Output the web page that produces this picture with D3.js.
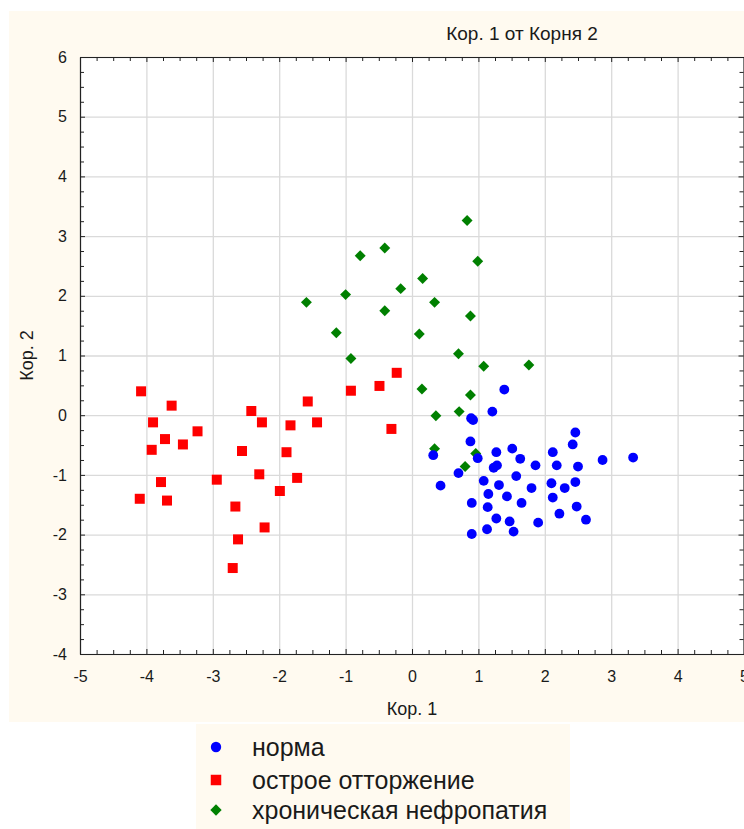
<!DOCTYPE html>
<html>
<head>
<meta charset="utf-8">
<script src="https://cdn.jsdelivr.net/npm/d3@7"></script>
<style>
  html, body { margin: 0; padding: 0; background: #ffffff; }
  svg { display: block; }
  text { font-family: "Liberation Sans", Arial, sans-serif; fill: #1a1a1a; }
</style>
</head>
<body>
<svg id="chart" width="744" height="829"></svg>
<script>
// ---- Data ----
const title = "Кор. 1 от Корня 2";
const xLabel = "Кор. 1";
const yLabel = "Кор. 2";
const seriesNames = ["норма", "острое отторжение", "хроническая нефропатия"];

const xTicks = [-5, -4, -3, -2, -1, 0, 1, 2, 3, 4, 5];
const yTicks = [-4, -3, -2, -1, 0, 1, 2, 3, 4, 5, 6];

// норма (blue circles)
const normaPoints = [
  [1.39, 0.43], [1.21, 0.06], [0.89, -0.05], [0.92, -0.08], [2.46, -0.29],
  [2.42, -0.49], [0.88, -0.44], [1.27, -0.62], [1.51, -0.56], [2.12, -0.62],
  [0.32, -0.67], [0.99, -0.72], [1.63, -0.73], [2.87, -0.75], [3.33, -0.71],
  [1.28, -0.84], [1.23, -0.88], [1.86, -0.84], [2.18, -0.84], [2.50, -0.86],
  [0.70, -0.97], [1.57, -1.02], [1.08, -1.10], [1.31, -1.17], [2.10, -1.14],
  [2.46, -1.12], [0.43, -1.18], [1.80, -1.22], [2.30, -1.22], [1.15, -1.32],
  [1.43, -1.36], [2.12, -1.38], [0.90, -1.47], [1.65, -1.47], [1.14, -1.54],
  [2.48, -1.53], [2.22, -1.65], [1.27, -1.73], [1.47, -1.78], [2.62, -1.75],
  [1.90, -1.80], [1.13, -1.91], [1.53, -1.95], [0.90, -1.99]
];

// острое отторжение (red squares)
const acutePoints = [
  [-4.08, 0.40], [-3.62, 0.16], [-2.42, 0.07], [-1.57, 0.23], [-3.90, -0.12],
  [-2.26, -0.12], [-1.83, -0.17], [-1.43, -0.12], [-3.23, -0.27], [-3.72, -0.40],
  [-3.45, -0.49], [-3.92, -0.58], [-2.56, -0.60], [-1.89, -0.62], [-3.78, -1.12],
  [-2.94, -1.08], [-2.30, -0.99], [-1.73, -1.05], [-1.99, -1.27], [-4.10, -1.40],
  [-3.69, -1.43], [-2.66, -1.53], [-2.22, -1.88], [-2.62, -2.08], [-2.70, -2.56],
  [-0.23, 0.71], [-0.49, 0.49], [-0.92, 0.41], [-0.31, -0.23]
];

// хроническая нефропатия (green diamonds)
const chronicPoints = [
  [0.83, 3.26], [-0.41, 2.80], [-0.78, 2.67], [0.99, 2.58], [0.16, 2.29],
  [-0.17, 2.12], [-1.00, 2.02], [-1.59, 1.89], [0.34, 1.89], [-0.41, 1.75],
  [0.88, 1.66], [-1.14, 1.38], [0.11, 1.36], [0.70, 1.03], [-0.92, 0.95],
  [1.08, 0.82], [1.76, 0.84], [0.15, 0.44], [0.88, 0.34], [0.71, 0.06],
  [0.36, -0.01], [0.34, -0.56], [0.96, -0.64], [0.80, -0.86]
];

// ---- Drawing ----
const svg = d3.select("#chart");
const W = 744, H = 829;
const plot = { left: 80, right: 744, top: 57, bottom: 654 };
const bg = "#fffaf0";

// background panels
svg.append("rect").attr("x", 9).attr("y", 11).attr("width", W - 9).attr("height", 711).attr("fill", bg);
svg.append("rect").attr("x", 196).attr("y", 724).attr("width", 374).attr("height", H - 724).attr("fill", bg);
svg.append("rect").attr("x", plot.left).attr("y", plot.top)
  .attr("width", plot.right - plot.left).attr("height", plot.bottom - plot.top).attr("fill", "#ffffff");

const x = d3.scaleLinear().domain([-5, 5]).range([plot.left, plot.right]);
const y = d3.scaleLinear().domain([-4, 6]).range([plot.bottom, plot.top]);

const minorX = d3.range(-5, 5.001, 0.25).filter(v => Math.abs(v - Math.round(v)) > 1e-6);
const minorY = d3.range(-4, 6.001, 0.25).filter(v => Math.abs(v - Math.round(v)) > 1e-6);
const fmt = d => String(d); // plain hyphen-minus like the reference

// grid lines
const gridX = svg.append("g").attr("transform", `translate(0,${plot.bottom})`)
  .call(d3.axisBottom(x).tickValues(xTicks).tickSize(-(plot.bottom - plot.top)).tickFormat(""));
const gridY = svg.append("g").attr("transform", `translate(${plot.left},0)`)
  .call(d3.axisLeft(y).tickValues(yTicks).tickSize(-(plot.right - plot.left)).tickFormat(""));
[gridX, gridY].forEach(g => {
  g.select(".domain").remove();
  g.selectAll("line").attr("stroke", "#dadada").attr("stroke-width", 1.3);
});

// points
const symSquare = d3.symbol().type(d3.symbolSquare).size(100);
const symDiamond = d3.symbol().type(d3.symbolSquare).size(60);
const gPts = svg.append("g");

gPts.selectAll(".acute").data(acutePoints).join("path")
  .attr("class", "acute")
  .attr("d", symSquare)
  .attr("transform", d => `translate(${x(d[0])},${y(d[1])})`)
  .attr("fill", "#ff0000");

gPts.selectAll(".chronic").data(chronicPoints).join("path")
  .attr("class", "chronic")
  .attr("d", symDiamond)
  .attr("transform", d => `translate(${x(d[0])},${y(d[1])}) rotate(45)`)
  .attr("fill", "#008000");

gPts.selectAll(".norma").data(normaPoints).join("circle")
  .attr("class", "norma")
  .attr("cx", d => x(d[0])).attr("cy", d => y(d[1])).attr("r", 4.9)
  .attr("fill", "#0000ff");

// axes (ticks pointing inward)
function styleAxis(g) {
  g.select(".domain").attr("stroke", "#222").attr("stroke-width", 1.2);
  g.selectAll(".tick line").attr("stroke", "#222").attr("stroke-width", 1);
  g.selectAll("text").style("font-size", "16px").style("font-family", '"Liberation Sans", Arial, sans-serif').attr("fill", "#1a1a1a");
}
function minor(g) {
  g.select(".domain").remove();
  g.selectAll(".tick line").attr("stroke", "#222").attr("stroke-width", 1);
}

const axB = svg.append("g").attr("transform", `translate(0,${plot.bottom})`)
  .call(d3.axisBottom(x).tickValues(xTicks).tickSize(-5).tickSizeOuter(0).tickPadding(17).tickFormat(fmt));
styleAxis(axB);
svg.append("g").attr("transform", `translate(0,${plot.bottom})`)
  .call(d3.axisBottom(x).tickValues(minorX).tickSize(-4).tickFormat("")).call(minor);

const axL = svg.append("g").attr("transform", `translate(${plot.left},0)`)
  .call(d3.axisLeft(y).tickValues(yTicks).tickSize(-5).tickSizeOuter(0).tickPadding(13).tickFormat(fmt));
styleAxis(axL);
svg.append("g").attr("transform", `translate(${plot.left},0)`)
  .call(d3.axisLeft(y).tickValues(minorY).tickSize(-4).tickFormat("")).call(minor);

const axT = svg.append("g").attr("transform", `translate(0,${plot.top})`)
  .call(d3.axisTop(x).tickValues(xTicks).tickSize(-5).tickSizeOuter(0).tickFormat(""));
styleAxis(axT);
svg.append("g").attr("transform", `translate(0,${plot.top})`)
  .call(d3.axisTop(x).tickValues(minorX).tickSize(-4).tickFormat("")).call(minor);

const axR = svg.append("g").attr("transform", `translate(${plot.right - 0.5},0)`)
  .call(d3.axisRight(y).tickValues(yTicks).tickSize(-5).tickSizeOuter(0).tickFormat(""));
styleAxis(axR);
svg.append("g").attr("transform", `translate(${plot.right - 0.5},0)`)
  .call(d3.axisRight(y).tickValues(minorY).tickSize(-4).tickFormat("")).call(minor);

// titles
svg.append("text").attr("x", 522).attr("y", 40).attr("text-anchor", "middle")
  .style("font-size", "19px").text(title);
svg.append("text").attr("x", (plot.left + plot.right) / 2).attr("y", 715).attr("text-anchor", "middle")
  .style("font-size", "18px").text(xLabel);
svg.append("text").attr("transform", `translate(33,${(plot.top + plot.bottom) / 2}) rotate(-90)`)
  .attr("text-anchor", "middle").style("font-size", "18px").text(yLabel);

// legend
const legY = [747, 780, 810];
const leg = svg.append("g");
leg.append("circle").attr("cx", 216).attr("cy", legY[0]).attr("r", 5.2).attr("fill", "#0000ff");
leg.append("path").attr("d", d3.symbol().type(d3.symbolSquare).size(110))
  .attr("transform", `translate(216,${legY[1]})`).attr("fill", "#ff0000");
leg.append("path").attr("d", d3.symbol().type(d3.symbolSquare).size(64))
  .attr("transform", `translate(216,${legY[2]}) rotate(45)`).attr("fill", "#008000");
seriesNames.forEach((name, i) => {
  leg.append("text").attr("x", 252).attr("y", legY[i]).attr("dy", "0.35em")
    .style("font-size", "25px").text(name);
});
</script>
</body>
</html>
